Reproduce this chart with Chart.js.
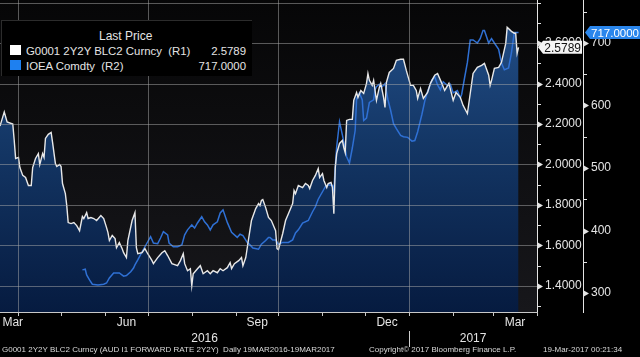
<!DOCTYPE html>
<html>
<head>
<meta charset="utf-8">
<script src="https://cdn.jsdelivr.net/npm/chart.js@4.4.1/dist/chart.umd.min.js"></script>
<style>
html,body{margin:0;padding:0;background:#000;}
#wrap{position:relative;width:640px;height:357px;overflow:hidden;background:#000;}
#c{position:absolute;left:0;top:0;}
.t{position:absolute;color:#e4e4e4;font-family:'Liberation Sans',Arial,sans-serif;white-space:pre;line-height:14px;}
#legend{position:absolute;left:1px;top:20px;width:250px;height:55px;background:#000;border-top:1px solid #2c2c2c;border-left:1px solid #2c2c2c;}
.sq{position:absolute;width:11px;height:10px;}
.ft{position:absolute;color:#d8d8d8;font-family:'Liberation Sans',Arial,sans-serif;font-size:8px;line-height:10px;white-space:pre;top:345px;}
</style>
</head>
<body>
<div id="wrap">
<canvas id="c" width="640" height="357"></canvas>
<div id="legend"></div>
</div>
<script>
// ---- data (days counted from 19 Mar 2016) ----
const r1Day = [0,3,5,9,10,11,13,14,16,18,20,22,23,25,27,28,30,31,32,34,36,37,39,40,42,43,44,46,47,48,
50,52,54,56,58,59,61,62,64,66,68,71,73,75,76,77,79,81,82,84,86,87,89,90,93,95,96,97,100,102,
104,107,108,111,114,116,118,121,125,127,129,130,132,134,135,136,139,141,143,146,148,150,153,155,157,160,162,163,165,168,
170,171,173,175,177,180,182,183,184,185,187,189,191,194,195,196,199,201,203,206,207,208,210,213,215,217,218,220,222,224,
225,227,228,230,231,233,234,235,236,237,239,241,242,243,244,246,248,249,251,252,254,256,258,259,260,262,263,265,267,268,
270,271,272,274,277,279,282,284,286,289,291,293,294,296,298,301,303,306,308,311,313,316,319,321,324,326,329,331,333,336,
339,341,344,345,346,348,351,353,356,357,360,362,363,364,365];
const r1Val = [2.19,2.26,2.21,2.20,2.12,2.03,2.035,1.985,1.946,1.936,1.896,1.896,1.985,2.03,2.054,2.00,2.054,2.035,2.129,2.149,2.158,2.109,2.005,1.99,2.00,1.99,1.906,1.856,1.797,1.713,
1.708,1.713,1.698,1.673,1.743,1.733,1.762,1.733,1.738,1.733,1.723,1.748,1.733,1.688,1.663,1.624,1.649,1.634,1.589,1.614,1.584,1.564,1.540,1.624,1.723,1.762,1.589,1.559,1.564,1.584,
1.559,1.525,1.510,1.540,1.564,1.574,1.550,1.510,1.500,1.525,1.559,1.510,1.475,1.485,1.401,1.460,1.485,1.500,1.460,1.475,1.460,1.475,1.465,1.485,1.475,1.490,1.515,1.485,1.510,1.525,
1.540,1.500,1.540,1.633,1.723,1.782,1.807,1.797,1.822,1.827,1.787,1.738,1.723,1.673,1.584,1.579,1.659,1.723,1.757,1.807,1.871,1.856,1.896,1.886,1.906,1.896,1.881,1.921,1.946,1.980,
1.936,1.955,1.921,1.886,1.906,1.911,1.886,1.757,1.985,2.054,2.104,2.119,2.084,2.059,2.218,2.223,2.223,2.317,2.356,2.332,2.366,2.351,2.401,2.450,2.416,2.391,2.416,2.317,2.381,2.401,
2.332,2.282,2.406,2.455,2.475,2.515,2.520,2.520,2.465,2.391,2.391,2.366,2.327,2.376,2.327,2.356,2.401,2.441,2.450,2.401,2.366,2.401,2.317,2.356,2.332,2.292,2.252,2.351,2.450,2.480,
2.490,2.500,2.441,2.391,2.416,2.475,2.480,2.505,2.599,2.678,2.658,2.649,2.649,2.550,2.5789];

const r2Day = [58,60,61,63,65,69,73,75,77,80,82,84,87,89,92,94,95,97,100,102,104,106,108,111,113,115,118,119,122,125,
128,130,132,135,137,139,142,144,146,148,150,153,155,157,160,163,167,169,171,174,176,178,182,184,187,189,190,192,194,196,
199,203,206,208,210,213,217,220,222,224,227,229,231,234,235,236,237,239,241,243,244,246,248,250,251,253,255,256,258,260,
263,264,265,267,269,271,273,275,277,279,282,284,287,290,292,294,297,299,301,304,306,308,310,312,315,317,319,322,324,325,
327,329,331,333,336,338,340,341,344,346,348,351,353,355,358,360,362,364,365];
const r2Val = [337,338,329,321,314,313,314,316,324,332,332,332,327,328,334,340,345,353,366,374,382,390,380,379,388,398,393,380,374,374,
377,393,401,409,404,412,422,414,409,401,409,414,428,433,413,397,389,394,392,381,377,372,370,378,384,389,389,385,385,378,
381,381,385,396,401,412,416,430,438,450,462,470,473,472,463,502,534,574,553,530,518,508,532,560,610,620,609,576,580,605,
609,625,630,634,630,635,610,592,571,563,552,550,549,543,544,558,586,607,623,641,646,633,625,638,632,634,620,624,612,618,
644,669,705,705,700,707,720,720,700,707,700,690,668,657,660,684,717,717,717];

const seriesNames = ['G0001 2Y2Y BLC2 Curncy  (R1)', 'IOEA Comdty  (R2)'];
const legendTitle = 'Last Price';
const r1Ticks = [1.4,1.6,1.8,2.0,2.2,2.4,2.6];
const r1Grid = [1.4,1.6,1.8,2.0,2.2,2.4,2.6,2.8];
const r2Ticks = [300,400,500,600,700];
const monthLabelNames = ['Mar','Jun','Sep','Dec','Mar'];
const monthLabelYM = [[2016,2],[2016,5],[2016,8],[2016,11],[2017,2]];
const quarterStartsYM = [[2016,3],[2016,6],[2016,9],[2017,0]];
const yearLabelNames = ['2016','2017'];
const yearLabelYears = [2016,2017];
const footerTexts = ['G0001 2Y2Y BLC2 Curncy (AUD I1 FORWARD RATE 2Y2Y)  Daily 19MAR2016-19MAR2017',
  'Copyright\u00a9 2017 Bloomberg Finance L.P.', '19-Mar-2017 00:21:34'];

// ---- helpers ----
const START = Date.UTC(2016,2,19);
const dayOf = (y,m,d) => Math.round((Date.UTC(y,m,d)-START)/86400000);
const X_MAX = dayOf(2017,3,1);
const WHITE = '#e8e8e8', BLUE = '#2f70d4', TAGBLUE = '#2a86ec';
const FONT = "'Liberation Sans',Arial,sans-serif";
const TRANSP = 'rgba(0,0,0,0)';
const AXIS = '#e4e4e4';
const GRID = 'rgba(170,170,170,0.5)';
const monthStarts = Array.from({length:13}, (_,i)=>dayOf(2016,3+i,1));

function drawTag(ctx, xTip, y, xEnd, fill, color, text, size){
  const h = 13, body = xTip + 5;
  ctx.save();
  ctx.fillStyle = fill;
  ctx.beginPath();
  ctx.moveTo(xTip, y);
  ctx.lineTo(body, y - h/2);
  ctx.lineTo(xEnd, y - h/2);
  ctx.lineTo(xEnd, y + h/2);
  ctx.lineTo(body, y + h/2);
  ctx.closePath(); ctx.fill();
  ctx.fillStyle = color;
  ctx.font = size + 'px ' + FONT;
  ctx.textBaseline = 'middle'; ctx.textAlign = 'right';
  ctx.fillText(text, xEnd - 1, y + 1);
  ctx.restore();
}

const decoPlugin = {
  id:'deco',
  beforeDraw(chart){
    const {ctx, chartArea:a} = chart;
    ctx.save();
    ctx.fillStyle = '#000'; ctx.fillRect(0,0,chart.width,chart.height);
    const g = ctx.createLinearGradient(0,a.top,0,a.bottom);
    g.addColorStop(0,'#060607'); g.addColorStop(1,'#17171b');
    ctx.fillStyle = g; ctx.fillRect(a.left,a.top,a.right-a.left,a.bottom-a.top);
    ctx.restore();
  },
  afterDatasetsDraw(chart){
    const {ctx, chartArea:a, scales} = chart;
    ctx.save();
    ctx.fillStyle = GRID;
    r1Grid.forEach(v=>{
      const p = Math.round(scales.y.getPixelForValue(v));
      ctx.fillRect(a.left, p, a.right - a.left, 1);
    });
    quarterStartsYM.forEach(([y,m])=>{
      const p = Math.round(scales.x.getPixelForValue(dayOf(y,m,1)));
      ctx.fillRect(p, a.top, 1, a.bottom - a.top);
    });
    ctx.restore();
  },
  afterDraw(chart){
    const {ctx, scales} = chart;
    ctx.save();
    ctx.fillStyle = AXIS;
    const axes = [[scales.y, 1.3, 2.8, 0.1, r1Ticks], [scales.y2, 300, 750, 50, r2Ticks]];
    axes.forEach(([s, lo, hi, step, majors])=>{
      for (let v = lo; v <= hi + step/2; v += step) {
        const p = Math.round(s.getPixelForValue(v));
        const major = majors.some(m=>Math.abs(m - v) < step/10);
        if (major) {
          ctx.beginPath(); ctx.moveTo(s.left, p - 3); ctx.lineTo(s.left + 6, p + 0.5); ctx.lineTo(s.left, p + 4); ctx.closePath(); ctx.fill();
        } else {
          ctx.fillRect(s.left, p, 4, 1);
        }
      }
    });
    ctx.fillStyle = '#c8c8c8';
    monthStarts.forEach(d=>{
      const p = Math.round(scales.x.getPixelForValue(d));
      ctx.fillRect(p, scales.x.top, 1, 4);
    });
    const px = Math.round(scales.x.getPixelForValue(dayOf(2017,0,1)));
    ctx.fillStyle = '#cfcfcf';
    ctx.fillRect(px, scales.x2.top + 1, 1, 16);
    ctx.restore();
    const v1 = r1Val[r1Val.length-1], v2 = r2Val[r2Val.length-1];
    drawTag(ctx, scales.y.left + 1, scales.y.getPixelForValue(v1), scales.y.right - 1, '#f4f4f4', '#111', v1.toFixed(4), 12);
    drawTag(ctx, scales.y2.left + 2, scales.y2.getPixelForValue(v2), chart.width, TAGBLUE, '#fff', v2.toFixed(4), 11.5);
  }
};

const tickFont = {family: FONT, size: 12};

new Chart(document.getElementById('c'), {
  type: 'line',
  data: {
    datasets: [
      {
        label: seriesNames[0],
        data: r1Day.map((d,i)=>({x:d, y:r1Val[i]})),
        yAxisID: 'y',
        borderColor: WHITE, borderWidth: 1.4,
        pointRadius: 0, tension: 0,
        fill: 'start',
        backgroundColor: (c) => {
          const a = c.chart.chartArea;
          if (!a) return TRANSP;
          const g = c.chart.ctx.createLinearGradient(0,a.top,0,a.bottom);
          g.addColorStop(0,'#24518c'); g.addColorStop(0.45,'#143766'); g.addColorStop(1,'#061b40');
          return g;
        }
      },
      {
        label: seriesNames[1],
        data: r2Day.map((d,i)=>({x:d, y:r2Val[i]})),
        yAxisID: 'y2',
        borderColor: BLUE, borderWidth: 1.5,
        pointRadius: 0, tension: 0, fill: false
      }
    ]
  },
  options: {
    responsive: false, animation: false, devicePixelRatio: 1,
    layout: {padding: 0},
    plugins: {legend:{display:false}, tooltip:{enabled:false}, filler:{drawTime:'beforeDatasetsDraw'}},
    scales: {
      x: {
        type:'linear', position:'bottom', min:0, max:X_MAX,
        afterBuildTicks(s){
          s.ticks = monthLabelYM.map(([y,m])=>{
            const a = Math.max(0, dayOf(y,m,1)), b = dayOf(y,m+1,1);
            return {value: Math.max((a+b)/2, 9)};
          });
        },
        ticks:{autoSkip:false, maxRotation:0, padding:0, color:AXIS, font:tickFont, callback:(v,i)=>monthLabelNames[i]},
        grid:{drawOnChartArea:false, drawTicks:true, tickLength:3, tickColor:TRANSP, color:TRANSP},
        border:{color:'#c8c8c8'},
        afterFit(s){ s.height = 18; s.paddingLeft = 0; s.paddingRight = 0; }
      },
      x2: {
        type:'linear', position:'bottom', min:0, max:X_MAX,
        afterBuildTicks(s){
          s.ticks = yearLabelYears.map(yr=>({
            value:(Math.max(0,dayOf(yr,0,1)) + Math.min(X_MAX,dayOf(yr+1,0,1)))/2}));
        },
        ticks:{autoSkip:false, maxRotation:0, padding:1, color:AXIS, font:tickFont, callback:(v,i)=>yearLabelNames[i]},
        grid:{display:false, drawTicks:false}, border:{display:false},
        afterFit(s){ s.height = 27; s.paddingLeft = 0; s.paddingRight = 0; }
      },
      y: {
        type:'linear', position:'right', min:1.271, max:2.813,
        afterBuildTicks(s){ s.ticks = r1Ticks.map(v=>({value:v})); },
        ticks:{autoSkip:false, padding:3, color:AXIS, font:tickFont, callback:(v)=>v.toFixed(4)},
        grid:{drawOnChartArea:false, drawTicks:true, tickLength:5, tickColor:TRANSP, color:TRANSP},
        border:{color:AXIS},
        afterFit(s){ s.width = 46; s.paddingTop = 0; s.paddingBottom = 0; }
      },
      y2: {
        type:'linear', position:'right', min:269.6, max:768.8,
        afterBuildTicks(s){ s.ticks = r2Ticks.map(v=>({value:v})); },
        ticks:{autoSkip:false, padding:3, color:AXIS, font:tickFont, callback:(v)=>String(v)},
        grid:{drawOnChartArea:false, drawTicks:true, tickLength:5, tickColor:TRANSP, color:TRANSP},
        border:{color:AXIS},
        afterFit(s){ s.width = 57; s.paddingTop = 0; s.paddingBottom = 0; }
      }
    }
  },
  plugins: [decoPlugin]
});

// ---- legend box & footer (HTML text) ----
const lg = document.getElementById('legend');
const wrap = document.getElementById('wrap');
function addText(parent, txt, left, top, size, extra){
  const d = document.createElement('div');
  d.className = 't'; d.textContent = txt;
  d.style.left = left + 'px'; d.style.top = top + 'px'; d.style.fontSize = size + 'px';
  if (extra) Object.assign(d.style, extra);
  parent.appendChild(d); return d;
}
addText(lg, legendTitle, 97, 8, 12);
const sqColors = ['#ffffff', '#1e80f0'];
const lastVals = [r1Val[r1Val.length-1].toFixed(4), r2Val[r2Val.length-1].toFixed(4)];
seriesNames.forEach((nm,i)=>{
  const sq = document.createElement('div');
  sq.className = 'sq'; sq.style.left = '8px'; sq.style.top = (24 + i*15) + 'px'; sq.style.background = sqColors[i];
  lg.appendChild(sq);
  addText(lg, nm, 24, 23 + i*15, 11.4);
  addText(lg, lastVals[i], 140, 23 + i*15, 11.4, {width:'104px', textAlign:'right'});
});
const ftLeft = [2, 369, 543];
footerTexts.forEach((s,i)=>{
  const d = document.createElement('div');
  d.className = 'ft'; d.textContent = s; d.style.left = ftLeft[i] + 'px';
  wrap.appendChild(d);
});
</script>
</body>
</html>
